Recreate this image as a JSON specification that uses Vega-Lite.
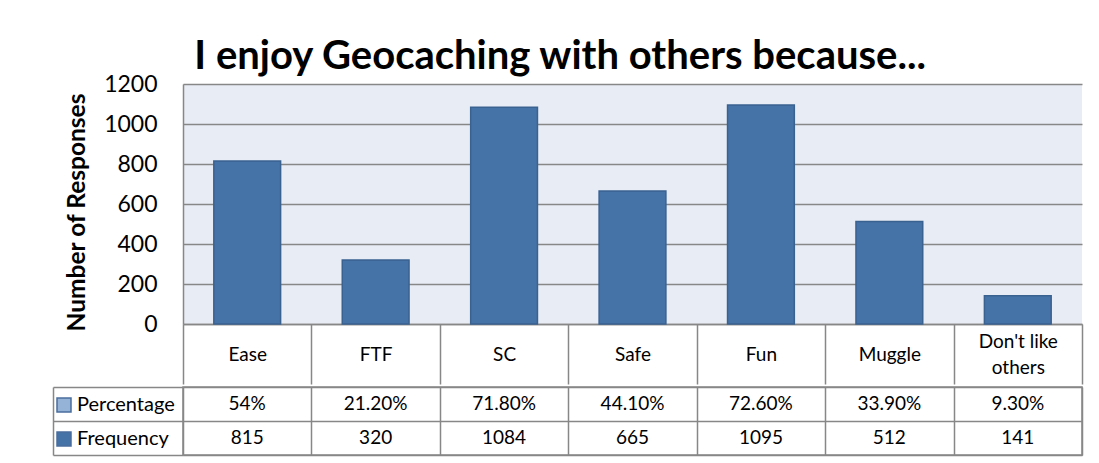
{
  "$schema": "https://vega.github.io/schema/vega-lite/v6.json",
  "padding": {"left": 51, "top": 37, "right": 5, "bottom": 5},
  "background": "white",
  "title": {"text": "I enjoy Geocaching with others because...", "fontSize": 40, "font": "Lato", "fontWeight": "bold", "color": "black", "anchor": "middle", "offset": -4, "dx": -7},
  "datasets": {
    "answers": [
      {"reason": "Ease", "Percentage": "54%", "Frequency": 815},
      {"reason": "FTF", "Percentage": "21.20%", "Frequency": 320},
      {"reason": "SC", "Percentage": "71.80%", "Frequency": 1084},
      {"reason": "Safe", "Percentage": "44.10%", "Frequency": 665},
      {"reason": "Fun", "Percentage": "72.60%", "Frequency": 1095},
      {"reason": "Muggle", "Percentage": "33.90%", "Frequency": 512},
      {"reason": "Don't like others", "Percentage": "9.30%", "Frequency": 141}
    ]
  },
  "spacing": 0,
  "resolve": {"legend": {"color": "independent"}},
  "vconcat": [
    {
      "width": 899,
      "height": 240,
      "view": {"fill": "#E8ECF4", "stroke": null},
      "data": {"name": "answers"},
      "mark": {"type": "bar", "fill": "#4572A7", "stroke": "#3A6291", "strokeWidth": 1.5, "width": {"band": 0.52}},
      "encoding": {
        "x": {
          "field": "reason", "type": "nominal", "sort": null,
          "scale": {"type": "band", "paddingInner": 0, "paddingOuter": 0},
          "axis": {
            "title": null, "labelAngle": 0, "ticks": true, "tickBand": "extent", "tickSize": 60,
            "tickColor": "#878787", "tickWidth": 1.5, "domainColor": "#878787", "domainWidth": 1.5,
            "labelPadding": {"condition": {"test": "datum.value === \"Don't like others\"", "value": -43}, "value": -30},
            "labelBaseline": "middle", "labelFontSize": 19, "labelFont": "Lato",
            "labelColor": "black", "labelLineHeight": 26,
            "labelExpr": "datum.value === \"Don't like others\" ? [\"Don't like\", \"others\"] : datum.value",
            "minExtent": 60, "maxExtent": 60, "grid": false
          }
        },
        "y": {
          "field": "Frequency", "type": "quantitative",
          "scale": {"domain": [0, 1200]},
          "axis": {
            "title": "Number of Responses", "values": [0, 200, 400, 600, 800, 1000, 1200], "format": "d",
            "grid": true, "gridColor": "#878787", "gridWidth": 1.5, "ticks": false, "labelPadding": 26,
            "domainColor": "#878787", "domainWidth": 1.5, "labelFontSize": 23, "labelFont": "Lato",
            "labelColor": "black", "titleFont": "Lato", "titleFontSize": 24.5, "titleFontWeight": "bold",
            "titleColor": "black", "titlePadding": 14, "titleY": 128
          }
        }
      }
    },
    {
      "width": 899,
      "height": 68,
      "view": {"stroke": "#878787", "strokeWidth": 1.5},
      "data": {"name": "answers"},
      "transform": [{"fold": ["Percentage", "Frequency"], "as": ["row", "value"]}],
      "layer": [
        {
          "mark": {"type": "text", "font": "Lato", "fontSize": 19, "color": "black"},
          "encoding": {
            "x": {
              "field": "reason", "type": "nominal", "sort": null,
              "scale": {"type": "band", "paddingInner": 0, "paddingOuter": 0},
              "axis": {"title": null, "labels": false, "ticks": false, "domain": false, "grid": true, "tickBand": "extent", "gridColor": "#878787", "gridWidth": 1.5}
            },
            "y": {
              "field": "row", "type": "nominal", "sort": ["Percentage", "Frequency"],
              "scale": {"type": "band", "paddingInner": 0, "paddingOuter": 0},
              "axis": {"title": null, "labels": false, "grid": true, "tickBand": "extent", "gridColor": "#878787", "gridWidth": 1.5, "offset": 130, "tickSize": -130, "tickColor": "#878787", "tickWidth": 1.5, "domainColor": "#878787", "domainWidth": 1.5}
            },
            "text": {"field": "value", "type": "nominal"}
          }
        },
        {
          "mark": {"type": "square", "opacity": 0},
          "encoding": {
            "y": {"field": "row", "type": "nominal", "sort": ["Percentage", "Frequency"]},
            "color": {
              "field": "row", "type": "nominal",
              "scale": {"domain": ["Percentage", "Frequency"], "range": ["#95B3D7", "#4572A7"]},
              "legend": {
                "orient": "none", "legendX": -129, "legendY": 8, "title": null, "symbolType": "square",
                "symbolSize": 196, "symbolOpacity": 1, "symbolStrokeColor": "#4A6E9D", "symbolStrokeWidth": 1.5,
                "labelFont": "Lato", "labelFontSize": 20, "labelColor": "black", "rowPadding": 14,
                "labelOffset": 3, "padding": 0
              }
            }
          }
        }
      ]
    }
  ]
}
